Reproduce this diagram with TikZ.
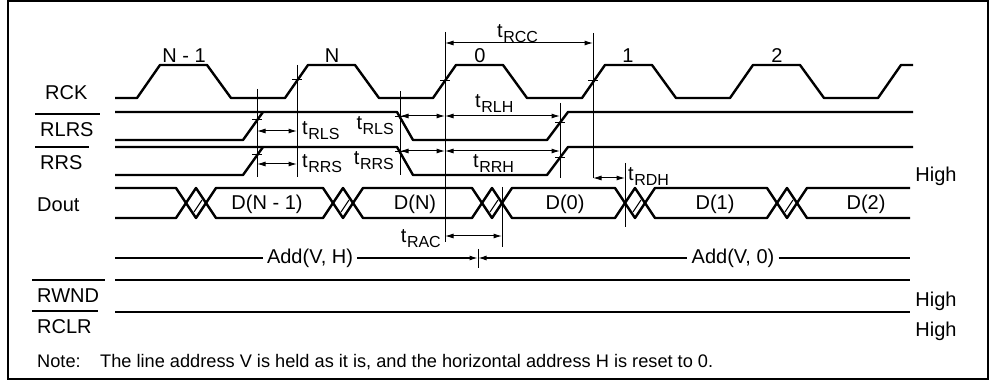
\documentclass[tikz,border=0pt]{standalone}
\usepackage{fontspec}
\setmainfont{Liberation Sans}
\usetikzlibrary{arrows.meta, positioning}

\newcommand{\tparam}[1]{t\kern0.6pt\raisebox{-4.5pt}{\fontsize{16}{17}\selectfont #1}}

\tikzset{
  sig/.style={line width=2.4pt, line join=round},
  thinsig/.style={line width=1.4pt},
  ref/.style={line width=1pt},
  dim/.style={line width=1pt, {Latex[length=8.5pt,width=5pt]}-{Latex[length=8.5pt,width=5pt]}},
  lbl/.style={font=\fontsize{20}{23}\selectfont, inner sep=0pt},
  tlbl/.style={font=\fontsize{20}{23}\selectfont, inner sep=0pt},
  notelbl/.style={font=\fontsize{18.2}{21}\selectfont, inner sep=0pt, anchor=base west},
}

\begin{document}
\begin{tikzpicture}[x=1pt, y=-1pt]
  \useasboundingbox (0,0) rectangle (994,387);
  \draw[line width=1.6pt] (8,1) rectangle (988,379);

  % signal names
  \node[lbl, anchor=base west] (rck)  at (45,100) {RCK};
  \node[lbl, anchor=base west] (rlrs) at (40,137) {RLRS};
  \node[lbl, anchor=base west] (rrs)  at (40,170) {RRS};
  \node[lbl, anchor=base west] (dout) at (37,212) {Dout};
  \node[lbl, anchor=base west] (rwnd) at (37,303) {RWND};
  \node[lbl, anchor=base west] (rclr) at (37,334) {RCLR};
  \foreach \s in {rlrs, rrs, rwnd, rclr}
    \draw[thinsig] ([shift={(-5pt,9pt)}]\s.north west) -- ([shift={(6pt,9pt)}]\s.north east);

  % RCK clock
  \draw[sig] (115,98)
    \foreach \r in {137,285,433,582,730} { -- (\r,98) -- (\r+23,65) -- (\r+70,65) -- (\r+94,98) }
    -- (878,98) -- (901,65) -- (913,65);
  \foreach \n/\x/\t in {cn1/184/N - 1, cn/332/N, c0/480/0, c1/628/1, c2/777/2}
    \node[lbl] (\n) at (\x,56) {\t};

  % RLRS and RRS
  \foreach \y/\n in {112/lrs, 147/rs} {
    \draw[sig] (115,\y+28) -- (243,\y+28) -- (263,\y);
    \draw[sig] (115,\y) -- (397,\y) -- (413,\y+28) -- (547,\y+28) -- (568,\y) -- (913,\y);
  }

  % Dout
  \draw[sig] (115,188)
    \foreach \a in {176,323,472,615,767} { -- (\a,188) -- (\a+20,218) -- (\a+40,188) }
    -- (910,188);
  \draw[sig] (115,218)
    \foreach \a in {176,323,472,615,767} { -- (\a,218) -- (\a+20,188) -- (\a+40,218) }
    -- (910,218);
  \foreach \a in {176,323,472,615,767}
    \draw[ref] (\a+18,212) -- (\a+26,200);
  \foreach \n/\x/\t in {dn1/267/D(N - 1), dn/415/D(N), d0/565/D(0), d1/715/D(1), d2/866/D(2)}
    \node[lbl] (\n) at (\x,204) {\t};

  % address, RWND, RCLR
  \node[lbl, inner sep=4pt] (addh) at (310,258) {Add(V, H)};
  \node[lbl, inner sep=4pt] (add0) at (733,258) {Add(V, 0)};
  \coordinate (addm) at (478,258);
  \draw[thinsig] (115,258) -- (addh.west);
  \draw[thinsig, -{Latex[length=8.5pt,width=5pt]}] (addh.east) -- (addm);
  \draw[thinsig, {Latex[length=8.5pt,width=5pt]}-] (addm) -- (add0.west);
  \draw[thinsig] (add0.east) -- (910,258);
  \draw[ref] (478,249) -- (478,268);
  \draw[sig] (115,280) -- (910,280);
  \draw[sig] (115,312) -- (910,312);
  \node[lbl, anchor=base] (high1) at (936,182) {High};
  \node[lbl, anchor=base] (high2) at (936,307) {High};
  \node[lbl, anchor=base] (high3) at (936,337) {High};

  % reference lines
  \draw[ref] (257,89) -- (257,177);
  \draw[ref] (297,65) -- (297,177);
  \draw[ref] (400,91) -- (400,175);
  \draw[ref] (445,32) -- (445,242);
  \draw[ref] (560,103) -- (560,178);
  \draw[ref] (593,33) -- (593,178);
  \draw[ref] (625,163) -- (625,227);
  \draw[ref] (502,187) -- (502,247);
  \foreach \x/\y in {297/80, 445/81, 593/81, 257/120, 257/155, 400/117, 400/152, 560/123, 560/158}
    \draw[ref] (\x-5,\y) -- (\x+5,\y);

  % timing arrows
  \foreach \n/\x/\y in {ccA/445/43, ccB/593/43, lsA/257/131, lsB/297/131, ssA/257/164, ssB/297/164,
                       lhA/400/116, lhB/445/116, lhC/560/116, rhA/400/151, rhB/445/151, rhC/560/151,
                       dhA/593/178, dhB/625/178, acA/445/236, acB/502/236}
    \coordinate (\n) at (\x,\y);
  \draw[dim] (ccA) -- (ccB);
  \draw[dim] (lsA) -- (lsB);
  \draw[dim] (ssA) -- (ssB);
  \draw[dim] (lhA) -- (lhB);
  \draw[dim] (lhB) -- (lhC);
  \draw[dim] (rhA) -- (rhB);
  \draw[dim] (rhB) -- (rhC);
  \draw[dim] (dhA) -- (dhB);
  \draw[dim] (acA) -- (acB);

  % timing labels
  \node[tlbl, anchor=base west] (trcc)  at (497,38)  {\tparam{RCC}};
  \node[tlbl, anchor=base west] (trlh)  at (475,108) {\tparam{RLH}};
  \node[tlbl, anchor=base west] (trls1) at (302,135) {\tparam{RLS}};
  \node[tlbl, anchor=base east] (trls2) at (394,130) {\tparam{RLS}};
  \node[tlbl, anchor=base west] (trrs1) at (302,168) {\tparam{RRS}};
  \node[tlbl, anchor=base east] (trrs2) at (394,165) {\tparam{RRS}};
  \node[tlbl, anchor=base west] (trrh)  at (473,168) {\tparam{RRH}};
  \node[tlbl, anchor=base west] (trdh)  at (628,181) {\tparam{RDH}};
  \node[tlbl, anchor=base east] (trac)  at (441,243) {\tparam{RAC}};

  % note
  \node[notelbl] (note) at (37,368) {Note:};
  \node[notelbl] (notetxt) at (100,368)
    {The line address V is held as it is, and the horizontal address H is reset to 0.};
\end{tikzpicture}
\end{document}
